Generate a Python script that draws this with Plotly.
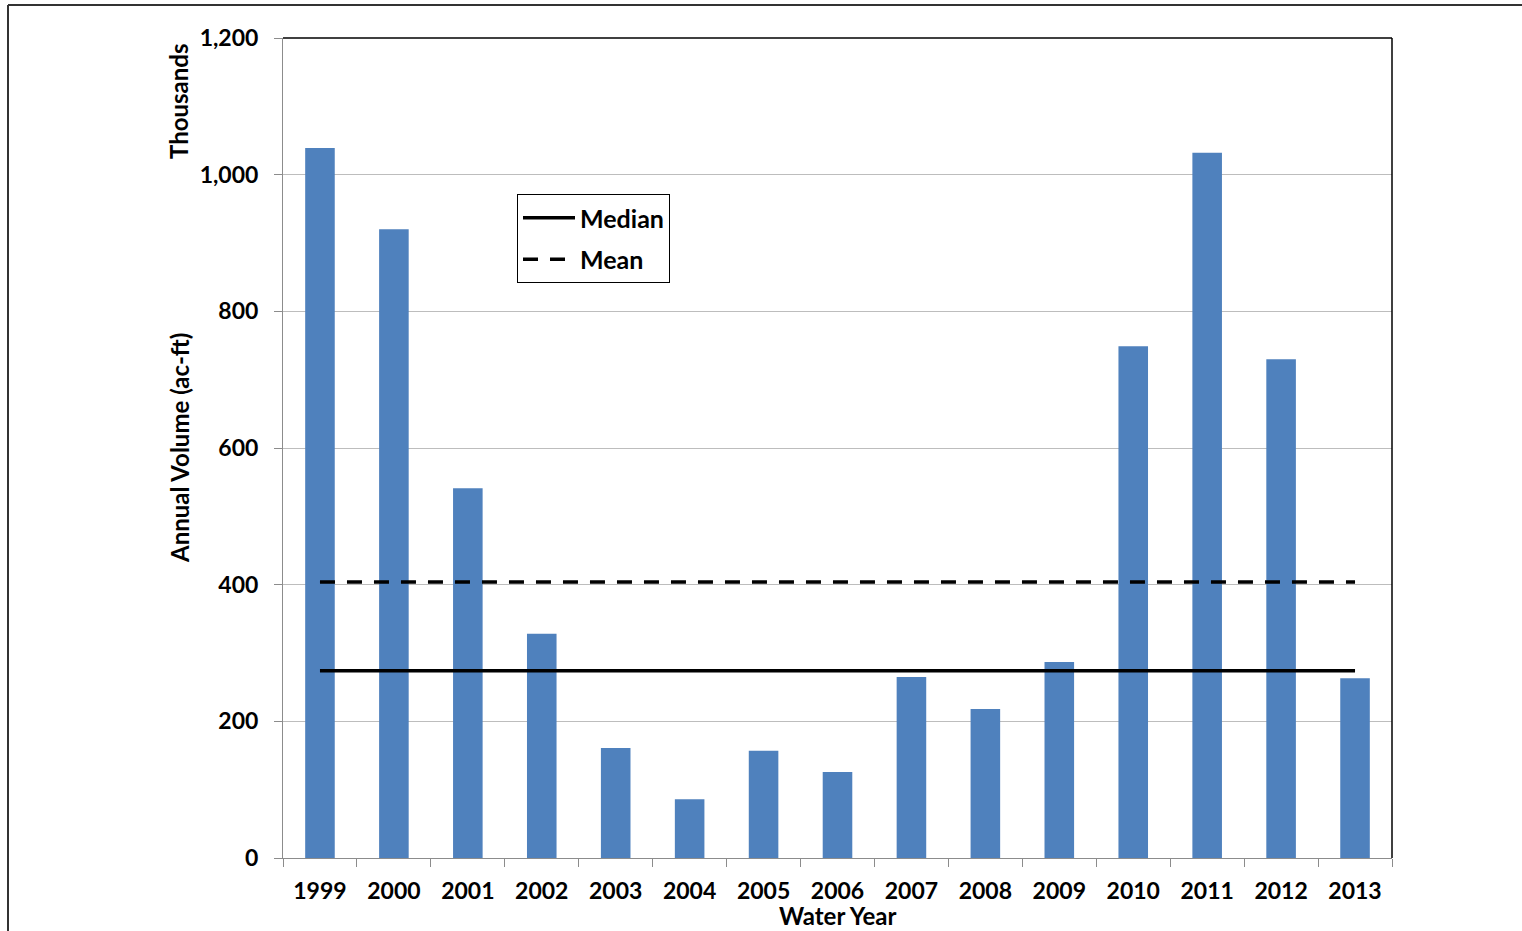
import plotly.graph_objects as go

years = ["1999", "2000", "2001", "2002", "2003", "2004", "2005", "2006",
         "2007", "2008", "2009", "2010", "2011", "2012", "2013"]
volumes = [1039, 920, 541, 328, 161, 86, 157, 126, 265, 218, 287, 749, 1032, 730, 263]
median_value = 274
mean_value = 404
y_ticks = [0, 200, 400, 600, 800, 1000, 1200]
y_tick_labels = ["0", "200", "400", "600", "800", "1,000", "1,200"]

FONT = "Lato"
W, H = 1522, 931
L, R, T, B = 283, 1392, 38, 858

def px_x(p):
    return (p - L) / (R - L)

def px_y(p):
    return (B - p) / (B - T)

tick_font = dict(family=FONT, size=23, color="black", weight="bold")
title_font = dict(family=FONT, size=24, color="black", weight="bold")
legend_font = dict(family=FONT, size=25, color="black", weight="bold")

fig = go.Figure()
fig.add_trace(go.Bar(x=years, y=volumes, marker=dict(color="#4F81BD", line=dict(width=0)),
                     showlegend=False, hoverinfo="x+y"))
fig.add_trace(go.Scatter(x=years, y=[median_value] * len(years), mode="lines", name="Median",
                         line=dict(color="black", width=3.5), legendgroup="a"))
fig.add_trace(go.Scatter(x=years, y=[mean_value] * len(years), mode="lines", name="Mean",
                         line=dict(color="black", width=3.5, dash="15px,12px"), legendgroup="b"))

fig.update_layout(
    width=W, height=H,
    margin=dict(l=L, r=W - R, t=T, b=H - B, pad=0),
    paper_bgcolor="white", plot_bgcolor="white",
    font=dict(family=FONT, size=22, color="black", weight="bold"),
    bargap=0.6,
    legend=dict(x=px_x(517), y=px_y(194), xanchor="left", yanchor="top",
                bordercolor="black", borderwidth=1, bgcolor="white",
                font=legend_font, tracegroupgap=6, itemwidth=52),
    xaxis=dict(type="category", showgrid=False, showline=True, linecolor="#8c8c8c", linewidth=1,
               ticks="outside", tickson="boundaries", ticklen=8, tickcolor="#8c8c8c",
               tickfont=tick_font, ticklabelstandoff=12, range=[-0.5, len(years) - 0.5]),
    yaxis=dict(range=[0, 1200], tickvals=y_ticks, ticktext=y_tick_labels,
               showgrid=True, gridcolor="#bdbdbd", gridwidth=1, zeroline=False,
               showline=True, linecolor="#8c8c8c", linewidth=1,
               ticks="outside", ticklen=8, tickcolor="#8c8c8c", tickfont=tick_font,
               ticklabelstandoff=11),
    shapes=[
        dict(type="line", xref="paper", yref="paper", x0=0, x1=1, y0=1, y1=1,
             line=dict(color="black", width=1.5)),
        dict(type="line", xref="paper", yref="paper", x0=1, x1=1, y0=0, y1=1,
             line=dict(color="black", width=1.5)),
        dict(type="line", xref="paper", yref="paper", x0=px_x(8), x1=px_x(1530), y0=px_y(5), y1=px_y(5),
             line=dict(color="#333333", width=2)),
        dict(type="line", xref="paper", yref="paper", x0=px_x(8), x1=px_x(8), y0=px_y(5), y1=px_y(940),
             line=dict(color="#333333", width=2)),
    ],
    annotations=[
        dict(text="Annual Volume (ac-ft)", xref="paper", yref="paper", x=px_x(179), y=px_y(448),
             xanchor="center", yanchor="middle", textangle=-90, showarrow=False, font=title_font),
        dict(text="Thousands", xref="paper", yref="paper", x=px_x(179), y=px_y(102),
             xanchor="center", yanchor="middle", textangle=-90, showarrow=False, font=title_font),
        dict(text="Water Year", xref="paper", yref="paper", x=px_x(838), y=px_y(915),
             xanchor="center", yanchor="middle", showarrow=False, font=title_font),
    ],
)

fig.write_html("out.html", config={"displayModeBar": False},
               post_script="document.body.style.margin='0';")
